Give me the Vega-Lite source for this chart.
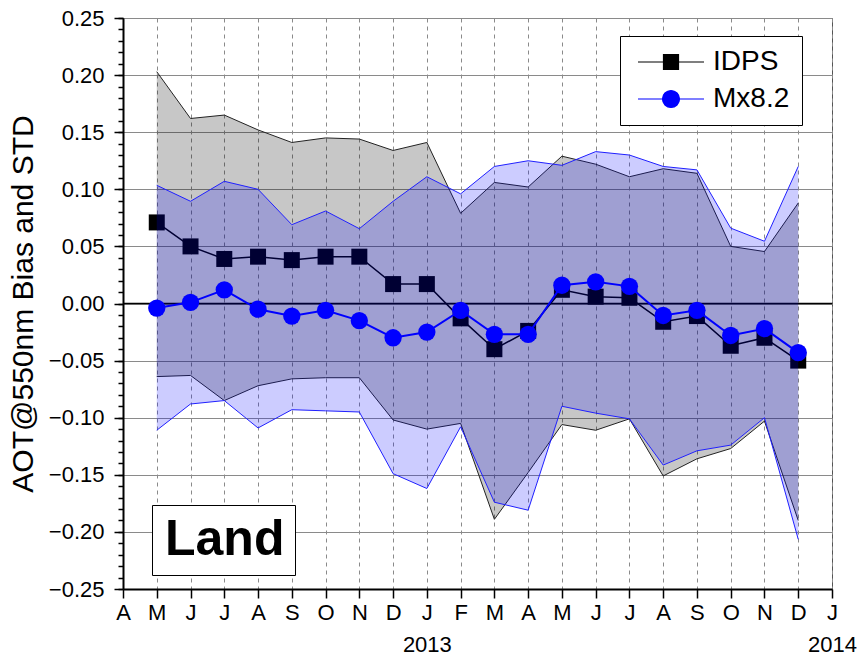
{
  "$schema": "https://vega.github.io/schema/vega-lite/v6.json",
  "width": 709,
  "height": 571,
  "autosize": {"type": "none"},
  "padding": {"left": 123, "top": 18, "right": 31, "bottom": 69},
  "background": "white",
  "config": {
    "font": "Liberation Sans",
    "view": {"stroke": "#555", "strokeWidth": 1},
    "axis": {"labelFont": "Liberation Sans", "titleFont": "Liberation Sans", "labelColor": "black", "titleColor": "black"},
    "axisX": {"labelOverlap": false, "labelFlush": false, "labelFontSize": 22, "labelLineHeight": 32, "labelPadding": 4,
      "labelAlign": "center", "labelBaseline": "top", "tickSize": 9, "tickColor": "black", "tickWidth": 1.5,
      "domainColor": "black", "domainWidth": 2, "grid": true, "gridColor": "#8a8a8a", "gridDash": [4, 4], "gridWidth": 1}
  },
  "datasets": {
    "stats": [
      {"m": 1, "series": "IDPS", "bias": 0.071, "hi": 0.203, "lo": -0.064},
      {"m": 2, "series": "IDPS", "bias": 0.050, "hi": 0.162, "lo": -0.063},
      {"m": 3, "series": "IDPS", "bias": 0.039, "hi": 0.165, "lo": -0.085},
      {"m": 4, "series": "IDPS", "bias": 0.041, "hi": 0.152, "lo": -0.072},
      {"m": 5, "series": "IDPS", "bias": 0.038, "hi": 0.141, "lo": -0.066},
      {"m": 6, "series": "IDPS", "bias": 0.041, "hi": 0.145, "lo": -0.065},
      {"m": 7, "series": "IDPS", "bias": 0.041, "hi": 0.144, "lo": -0.065},
      {"m": 8, "series": "IDPS", "bias": 0.017, "hi": 0.134, "lo": -0.102},
      {"m": 9, "series": "IDPS", "bias": 0.017, "hi": 0.141, "lo": -0.110},
      {"m": 10, "series": "IDPS", "bias": -0.013, "hi": 0.079, "lo": -0.105},
      {"m": 11, "series": "IDPS", "bias": -0.040, "hi": 0.106, "lo": -0.189},
      {"m": 12, "series": "IDPS", "bias": -0.024, "hi": 0.102, "lo": -0.148},
      {"m": 13, "series": "IDPS", "bias": 0.012, "hi": 0.129, "lo": -0.106},
      {"m": 14, "series": "IDPS", "bias": 0.006, "hi": 0.122, "lo": -0.111},
      {"m": 15, "series": "IDPS", "bias": 0.005, "hi": 0.111, "lo": -0.101},
      {"m": 16, "series": "IDPS", "bias": -0.016, "hi": 0.118, "lo": -0.151},
      {"m": 17, "series": "IDPS", "bias": -0.011, "hi": 0.114, "lo": -0.136},
      {"m": 18, "series": "IDPS", "bias": -0.037, "hi": 0.050, "lo": -0.127},
      {"m": 19, "series": "IDPS", "bias": -0.030, "hi": 0.0455, "lo": -0.103},
      {"m": 20, "series": "IDPS", "bias": -0.050, "hi": 0.088, "lo": -0.190},
      {"m": 1, "series": "Mx8.2", "bias": -0.004, "hi": 0.1035, "lo": -0.111},
      {"m": 2, "series": "Mx8.2", "bias": 0.001, "hi": 0.0895, "lo": -0.088},
      {"m": 3, "series": "Mx8.2", "bias": 0.012, "hi": 0.107, "lo": -0.085},
      {"m": 4, "series": "Mx8.2", "bias": -0.005, "hi": 0.100, "lo": -0.109},
      {"m": 5, "series": "Mx8.2", "bias": -0.011, "hi": 0.069, "lo": -0.093},
      {"m": 6, "series": "Mx8.2", "bias": -0.006, "hi": 0.081, "lo": -0.094},
      {"m": 7, "series": "Mx8.2", "bias": -0.015, "hi": 0.0655, "lo": -0.095},
      {"m": 8, "series": "Mx8.2", "bias": -0.030, "hi": 0.0895, "lo": -0.149},
      {"m": 9, "series": "Mx8.2", "bias": -0.025, "hi": 0.111, "lo": -0.162},
      {"m": 10, "series": "Mx8.2", "bias": -0.006, "hi": 0.096, "lo": -0.108},
      {"m": 11, "series": "Mx8.2", "bias": -0.027, "hi": 0.120, "lo": -0.174},
      {"m": 12, "series": "Mx8.2", "bias": -0.027, "hi": 0.125, "lo": -0.181},
      {"m": 13, "series": "Mx8.2", "bias": 0.016, "hi": 0.121, "lo": -0.090},
      {"m": 14, "series": "Mx8.2", "bias": 0.019, "hi": 0.133, "lo": -0.096},
      {"m": 15, "series": "Mx8.2", "bias": 0.015, "hi": 0.130, "lo": -0.101},
      {"m": 16, "series": "Mx8.2", "bias": -0.0105, "hi": 0.120, "lo": -0.1415},
      {"m": 17, "series": "Mx8.2", "bias": -0.006, "hi": 0.117, "lo": -0.129},
      {"m": 18, "series": "Mx8.2", "bias": -0.028, "hi": 0.066, "lo": -0.124},
      {"m": 19, "series": "Mx8.2", "bias": -0.022, "hi": 0.0545, "lo": -0.100},
      {"m": 20, "series": "Mx8.2", "bias": -0.043, "hi": 0.120, "lo": -0.2065}
    ],
    "panel": [{"region": "Land"}]
  },
  "data": {"name": "stats"},
  "resolve": {"axis": {"y": "independent"}},
  "layer": [
    {
      "transform": [{"filter": "datum.series === 'IDPS'"}],
      "mark": {"type": "area", "color": "black", "opacity": 0.22},
      "encoding": {
        "x": {"field": "m", "type": "quantitative",
          "scale": {"domain": [0, 21], "nice": false, "zero": false},
          "axis": {
            "values": [0,1,2,3,4,5,6,7,8,9,10,11,12,13,14,15,16,17,18,19,20,21],
            "tickCount": 100,
            "labelExpr": "datum.value == 9 ? ['J','2013'] : datum.value == 21 ? ['J','2014'] : ['A','M','J','J','A','S','O','N','D','J','F','M','A','M','J','J','A','S','O','N','D','J'][datum.value]",
            "title": null, "labelOverlap": false, "labelFlush": false
          }
        },
        "y": {"field": "lo", "type": "quantitative",
          "scale": {"domain": [-0.25, 0.25], "nice": false, "zero": false},
          "axis": {
            "orient": "left",
            "values": [-0.25,-0.2,-0.15,-0.1,-0.05,0,0.05,0.1,0.15,0.2,0.25],
            "tickCount": 100,
            "format": ".2f", "labelFontSize": 22, "labelPadding": 10, "labelFlush": false, "labelOverlap": false,
            "tickSize": 9, "tickColor": "black", "tickWidth": 1.5,
            "domainColor": "black", "domainWidth": 2,
            "grid": true, "gridColor": "#8a8a8a", "gridWidth": 1,
            "title": "AOT@550nm Bias and STD", "titleFontSize": 30, "titleFontWeight": "normal", "titlePadding": 10
          }
        },
        "y2": {"field": "hi"}
      }
    },
    {
      "transform": [{"filter": "datum.series === 'IDPS'"}],
      "mark": {"type": "line", "color": "#222", "strokeWidth": 1},
      "encoding": {
        "x": {"field": "m", "type": "quantitative"},
        "y": {"field": "hi", "type": "quantitative",
          "axis": {
            "orient": "left",
            "values": [-0.25,-0.24,-0.23,-0.22,-0.21,-0.2,-0.19,-0.18,-0.17,-0.16,-0.15,-0.14,-0.13,-0.12,-0.11,-0.1,-0.09,-0.08,-0.07,-0.06,-0.05,-0.04,-0.03,-0.02,-0.01,0,0.01,0.02,0.03,0.04,0.05,0.06,0.07,0.08,0.09,0.1,0.11,0.12,0.13,0.14,0.15,0.16,0.17,0.18,0.19,0.2,0.21,0.22,0.23,0.24,0.25],
            "tickCount": 200,
            "labels": false, "domain": false, "grid": false, "title": null,
            "tickSize": 5, "tickColor": "black", "tickWidth": 1.5
          }
        }
      }
    },
    {
      "transform": [{"filter": "datum.series === 'IDPS'"}],
      "mark": {"type": "line", "color": "#222", "strokeWidth": 1},
      "encoding": {
        "x": {"field": "m", "type": "quantitative"},
        "y": {"field": "lo", "type": "quantitative", "axis": null}
      }
    },
    {
      "data": {"name": "panel"},
      "mark": {"type": "rule", "color": "black", "strokeWidth": 1.5},
      "encoding": {
        "y": {"datum": 0, "type": "quantitative", "axis": null},
        "strokeDash": {"field": "region", "type": "nominal",
          "scale": {"range": [[1, 0]]},
          "legend": {
            "orient": "none", "legendX": 29, "legendY": 487,
            "title": null, "fillColor": "white", "strokeColor": "black", "padding": 10,
            "symbolSize": 0, "symbolStrokeWidth": 0, "symbolOpacity": 0, "labelOffset": -47,
            "labelFontSize": 50, "labelFontWeight": "bold", "labelColor": "black", "labelFont": "Liberation Sans"
          }
        }
      }
    },
    {
      "transform": [{"filter": "datum.series === 'IDPS'"}],
      "mark": {"type": "line", "strokeWidth": 1.5},
      "encoding": {
        "x": {"field": "m", "type": "quantitative"},
        "y": {"field": "bias", "type": "quantitative", "axis": null},
        "color": {"field": "series", "type": "nominal",
          "scale": {"domain": ["IDPS", "Mx8.2"], "range": ["black", "blue"]},
          "legend": {
            "orient": "none", "legendX": 497, "legendY": 18,
            "title": null, "fillColor": "white", "strokeColor": "black", "padding": 12,
            "symbolSize": 225, "symbolStrokeWidth": 1, "symbolOffset": 25, "labelOffset": 28,
            "rowPadding": 9, "labelFontSize": 28, "labelColor": "black", "labelFont": "Liberation Sans",
            "encode": {
              "symbols": {
                "update": {
                  "shape": {"signal": "datum.value === 'IDPS' ? 'M-4.4,0H-1M1,0H4.4M-1,-1H1V1H-1Z' : 'M-4.4,0H-1.13M1.13,0H4.4M-1.13,0A1.13,1.13,0,1,0,1.13,0A1.13,1.13,0,1,0,-1.13,0Z'"},
                  "fill": {"signal": "datum.value === 'IDPS' ? 'black' : 'blue'"},
                  "stroke": {"signal": "datum.value === 'IDPS' ? 'black' : 'blue'"},
                  "strokeWidth": {"value": 1.2},
                  "opacity": {"value": 1}
                }
              }
            }
          }
        }
      }
    },
    {
      "transform": [{"filter": "datum.series === 'IDPS'"}],
      "mark": {"type": "point", "shape": "square", "filled": true, "color": "black", "opacity": 1, "size": 256},
      "encoding": {
        "x": {"field": "m", "type": "quantitative"},
        "y": {"field": "bias", "type": "quantitative", "axis": null}
      }
    },
    {
      "transform": [{"filter": "datum.series === 'Mx8.2'"}],
      "mark": {"type": "area", "color": "blue", "opacity": 0.2},
      "encoding": {
        "x": {"field": "m", "type": "quantitative"},
        "y": {"field": "lo", "type": "quantitative", "axis": null},
        "y2": {"field": "hi"}
      }
    },
    {
      "transform": [{"filter": "datum.series === 'Mx8.2'"}],
      "mark": {"type": "line", "color": "#2020ff", "strokeWidth": 1},
      "encoding": {
        "x": {"field": "m", "type": "quantitative"},
        "y": {"field": "hi", "type": "quantitative", "axis": null}
      }
    },
    {
      "transform": [{"filter": "datum.series === 'Mx8.2'"}],
      "mark": {"type": "line", "color": "#2020ff", "strokeWidth": 1},
      "encoding": {
        "x": {"field": "m", "type": "quantitative"},
        "y": {"field": "lo", "type": "quantitative", "axis": null}
      }
    },
    {
      "transform": [{"filter": "datum.series === 'Mx8.2'"}],
      "mark": {"type": "line", "color": "blue", "strokeWidth": 2},
      "encoding": {
        "x": {"field": "m", "type": "quantitative"},
        "y": {"field": "bias", "type": "quantitative", "axis": null}
      }
    },
    {
      "transform": [{"filter": "datum.series === 'Mx8.2'"}],
      "mark": {"type": "point", "shape": "circle", "filled": true, "color": "blue", "opacity": 1, "size": 300},
      "encoding": {
        "x": {"field": "m", "type": "quantitative"},
        "y": {"field": "bias", "type": "quantitative", "axis": null}
      }
    }
  ]
}
